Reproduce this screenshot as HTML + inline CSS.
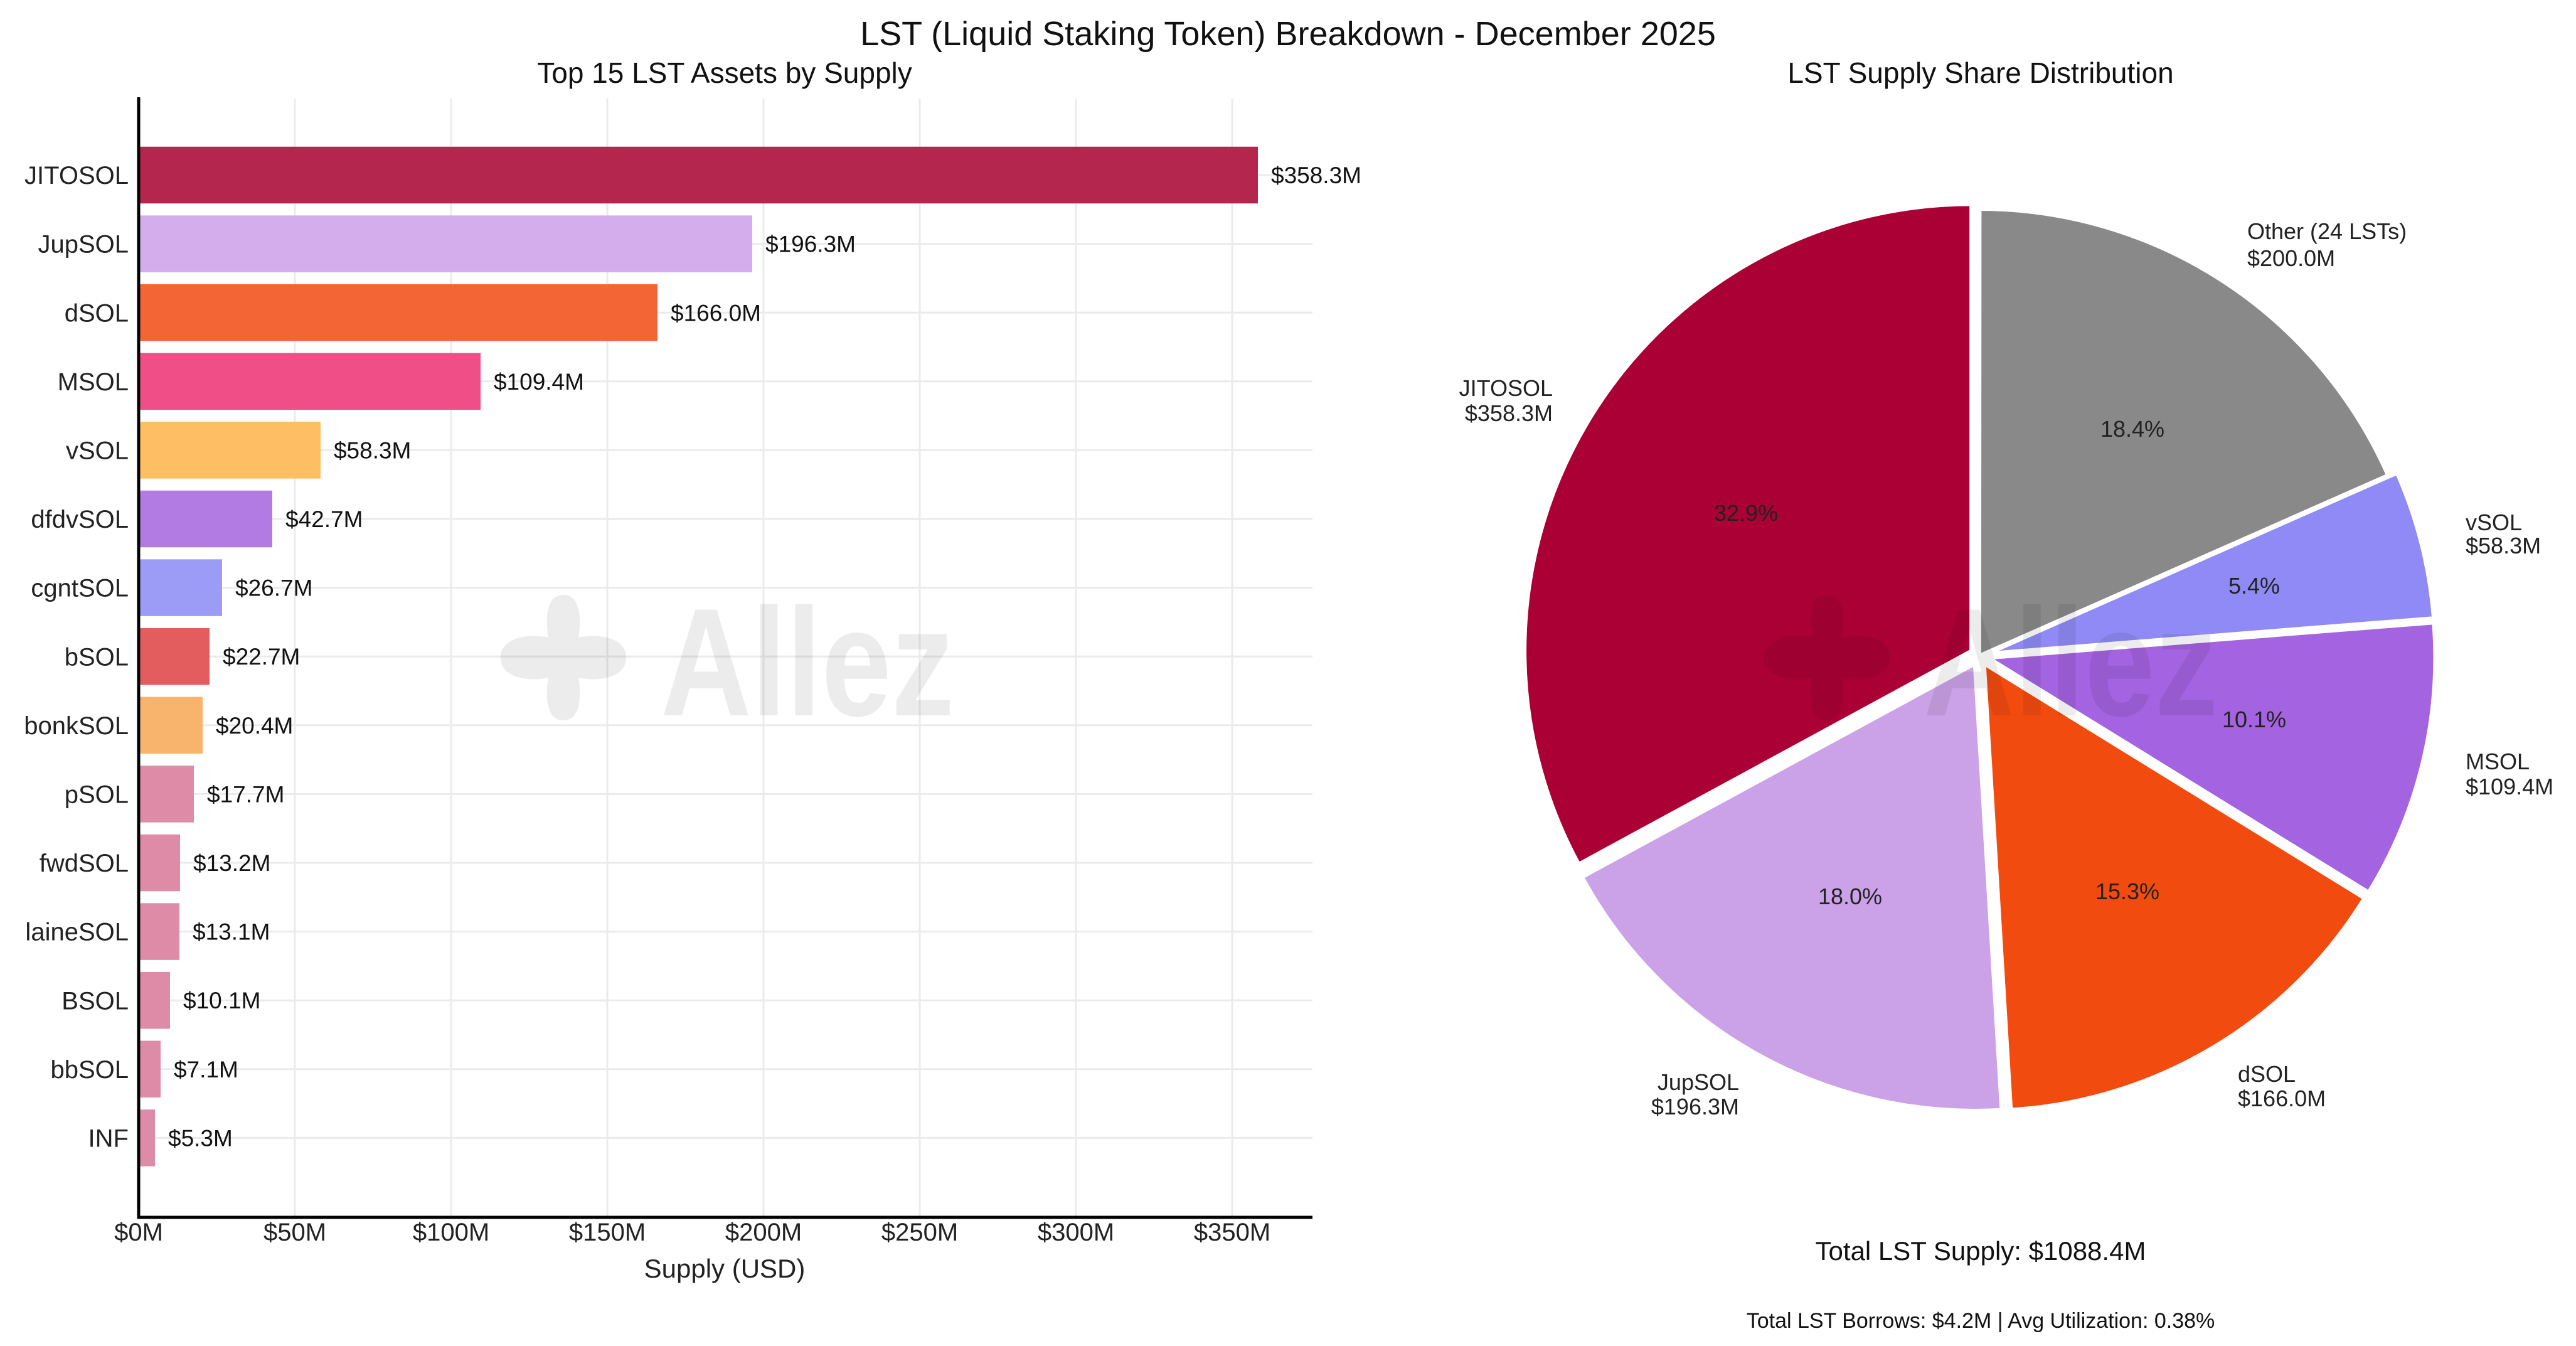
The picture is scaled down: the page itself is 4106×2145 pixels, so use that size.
<!DOCTYPE html>
<html><head><meta charset="utf-8"><style>
html,body{margin:0;padding:0;background:#fff;}
svg{display:block;font-family:"Liberation Sans",Arial,sans-serif;}
</style></head><body>
<svg width="4106" height="2145" viewBox="0 0 4106 2145" xmlns="http://www.w3.org/2000/svg">
<rect width="4106" height="2145" fill="#fff"/>
<text x="2053" y="72" font-size="54" text-anchor="middle" fill="#111">LST (Liquid Staking Token) Breakdown - December 2025</text>
<text x="1155" y="132" font-size="46" text-anchor="middle" fill="#111">Top 15 LST Assets by Supply</text>
<text x="3157" y="132" font-size="46" text-anchor="middle" fill="#111">LST Supply Share Distribution</text>

<!-- grid -->
<g stroke="#ebebeb" stroke-width="3">
<line x1="470" y1="157" x2="470" y2="1940"/><line x1="719" y1="157" x2="719" y2="1940"/>
<line x1="968" y1="157" x2="968" y2="1940"/><line x1="1217" y1="157" x2="1217" y2="1940"/>
<line x1="1466" y1="157" x2="1466" y2="1940"/><line x1="1715" y1="157" x2="1715" y2="1940"/>
<line x1="1964" y1="157" x2="1964" y2="1940"/>
</g>
<g transform="translate(0,-12.6) scale(1,1.0055)">
<g stroke="#ebebeb" stroke-width="3">
<line x1="221" y1="290" x2="2092" y2="290"/><line x1="221" y1="399" x2="2092" y2="399"/>
<line x1="221" y1="508" x2="2092" y2="508"/><line x1="221" y1="617" x2="2092" y2="617"/>
<line x1="221" y1="726" x2="2092" y2="726"/><line x1="221" y1="835" x2="2092" y2="835"/>
<line x1="221" y1="944" x2="2092" y2="944"/><line x1="221" y1="1053" x2="2092" y2="1053"/>
<line x1="221" y1="1162" x2="2092" y2="1162"/><line x1="221" y1="1271" x2="2092" y2="1271"/>
<line x1="221" y1="1380" x2="2092" y2="1380"/><line x1="221" y1="1489" x2="2092" y2="1489"/>
<line x1="221" y1="1598" x2="2092" y2="1598"/><line x1="221" y1="1707" x2="2092" y2="1707"/>
<line x1="221" y1="1816" x2="2092" y2="1816"/>
</g>
<g>
<rect x="221" y="245" width="1784" height="90" fill="#B5264F"/>
<rect x="221" y="354" width="978" height="90" fill="#D4AEEC"/>
<rect x="221" y="463" width="827" height="90" fill="#F36535"/>
<rect x="221" y="572" width="545" height="90" fill="#F04E87"/>
<rect x="221" y="681" width="290" height="90" fill="#FEBE64"/>
<rect x="221" y="790" width="213" height="90" fill="#B27BE3"/>
<rect x="221" y="899" width="133" height="90" fill="#9C9CF7"/>
<rect x="221" y="1008" width="113" height="90" fill="#E35C5E"/>
<rect x="221" y="1117" width="102" height="90" fill="#F8B46C"/>
<rect x="221" y="1226" width="88" height="90" fill="#DE8BA7"/>
<rect x="221" y="1335" width="66" height="90" fill="#DE8BA7"/>
<rect x="221" y="1444" width="65" height="90" fill="#DE8BA7"/>
<rect x="221" y="1553" width="50" height="90" fill="#DE8BA7"/>
<rect x="221" y="1662" width="35" height="90" fill="#DE8BA7"/>
<rect x="221" y="1771" width="26" height="90" fill="#DE8BA7"/>
</g>
<g font-size="37" fill="#111">
<text x="2026" y="303">$358.3M</text><text x="1220" y="412">$196.3M</text>
<text x="1069" y="521">$166.0M</text><text x="787" y="630">$109.4M</text>
<text x="532" y="739">$58.3M</text><text x="455" y="848">$42.7M</text>
<text x="375" y="957">$26.7M</text><text x="355" y="1066">$22.7M</text>
<text x="344" y="1175">$20.4M</text><text x="330" y="1284">$17.7M</text>
<text x="308" y="1393">$13.2M</text><text x="307" y="1502">$13.1M</text>
<text x="292" y="1611">$10.1M</text><text x="277" y="1720">$7.1M</text>
<text x="268" y="1829">$5.3M</text>
</g>
<g font-size="40" fill="#222" text-anchor="end">
<text x="205" y="304">JITOSOL</text><text x="205" y="413">JupSOL</text>
<text x="205" y="522">dSOL</text><text x="205" y="631">MSOL</text>
<text x="205" y="740">vSOL</text><text x="205" y="849">dfdvSOL</text>
<text x="205" y="958">cgntSOL</text><text x="205" y="1067">bSOL</text>
<text x="205" y="1176">bonkSOL</text><text x="205" y="1285">pSOL</text>
<text x="205" y="1394">fwdSOL</text><text x="205" y="1503">laineSOL</text>
<text x="205" y="1612">BSOL</text><text x="205" y="1721">bbSOL</text>
<text x="205" y="1830">INF</text>
</g>
</g>
<g stroke="#000" stroke-width="5" fill="none">
<line x1="221" y1="155" x2="221" y2="1942"/>
<line x1="219" y1="1940" x2="2092" y2="1940"/>
</g>
<g font-size="40" fill="#222" text-anchor="middle">
<text x="221" y="1977">$0M</text><text x="470" y="1977">$50M</text>
<text x="719" y="1977">$100M</text><text x="968" y="1977">$150M</text>
<text x="1217" y="1977">$200M</text><text x="1466" y="1977">$250M</text>
<text x="1715" y="1977">$300M</text><text x="1964" y="1977">$350M</text>
<text x="1155" y="2036" font-size="42">Supply (USD)</text>
</g>

<!-- pie -->
<g transform="translate(19.5,3.8) scale(0.9916)">
<g stroke="#fff" stroke-width="6" stroke-linejoin="miter">
<path d="M3149.1,1042.3 L3149.1,324.3 A718,718 0 0 0 2518.1,1384.9 Z" fill="#AA0036"/>
<path d="M3154.7,1063.1 L2523.7,1405.7 A718,718 0 0 0 3197.8,1779.8 Z" fill="#CBA1E8"/>
<path d="M3169.7,1062.9 L3212.8,1779.6 A718,718 0 0 0 3780.9,1439.6 Z" fill="#F24B0F"/>
<path d="M3176.6,1053.5 L3787.8,1430.2 A718,718 0 0 0 3892.4,996.8 Z" fill="#A463E0"/>
<path d="M3176.5,1046.3 L3892.3,989.6 A718,718 0 0 0 3833.4,756.4 Z" fill="#8F8AF5"/>
<path d="M3162,1050 L3818.9,760.1 A718,718 0 0 0 3162.5,332 Z" fill="#898989"/>
</g>
</g>
<g font-size="36" fill="#222" text-anchor="middle">
<text x="2783" y="830">32.9%</text><text x="3399" y="696">18.4%</text>
<text x="3593" y="946">5.4%</text><text x="3593" y="1159">10.1%</text>
<text x="3391" y="1433">15.3%</text><text x="2949" y="1441">18.0%</text>
</g>
<g font-size="36" fill="#222">
<text x="3582" y="381">Other (24 LSTs)</text><text x="3582" y="424">$200.0M</text>
<text x="3930" y="845">vSOL</text><text x="3930" y="882">$58.3M</text>
<text x="3930" y="1226">MSOL</text><text x="3930" y="1266">$109.4M</text>
<text x="3567" y="1724">dSOL</text><text x="3567" y="1763">$166.0M</text>
<text x="2772" y="1737" text-anchor="end">JupSOL</text><text x="2772" y="1776" text-anchor="end">$196.3M</text>
<text x="2475" y="631" text-anchor="end">JITOSOL</text><text x="2475" y="671" text-anchor="end">$358.3M</text>
</g>
<text x="3157" y="2008" font-size="42" text-anchor="middle" fill="#111">Total LST Supply: $1088.4M</text>
<text x="3157" y="2116" font-size="34" text-anchor="middle" fill="#111">Total LST Borrows: $4.2M | Avg Utilization: 0.38%</text>

<!-- watermarks -->
<g fill="#000" fill-opacity="0.075">
<path transform="translate(898,1048)" d="M0,-100 C30,-100 28,-55 24,-32 C50,-38 100,-35 100,0 C100,35 50,38 24,32 C28,55 30,100 0,100 C-30,100 -28,55 -24,32 C-50,38 -100,35 -100,0 C-100,-35 -50,-38 -24,-32 C-28,-55 -30,-100 0,-100 Z"/>
<text x="1053" y="1140" font-size="245" font-weight="bold" textLength="468" lengthAdjust="spacingAndGlyphs">Allez</text>
<path transform="translate(2912,1048)" d="M0,-100 C30,-100 28,-55 24,-32 C50,-38 100,-35 100,0 C100,35 50,38 24,32 C28,55 30,100 0,100 C-30,100 -28,55 -24,32 C-50,38 -100,35 -100,0 C-100,-35 -50,-38 -24,-32 C-28,-55 -30,-100 0,-100 Z"/>
<text x="3066" y="1140" font-size="245" font-weight="bold" textLength="469" lengthAdjust="spacingAndGlyphs">Allez</text>
</g>
</svg>
</body></html>
